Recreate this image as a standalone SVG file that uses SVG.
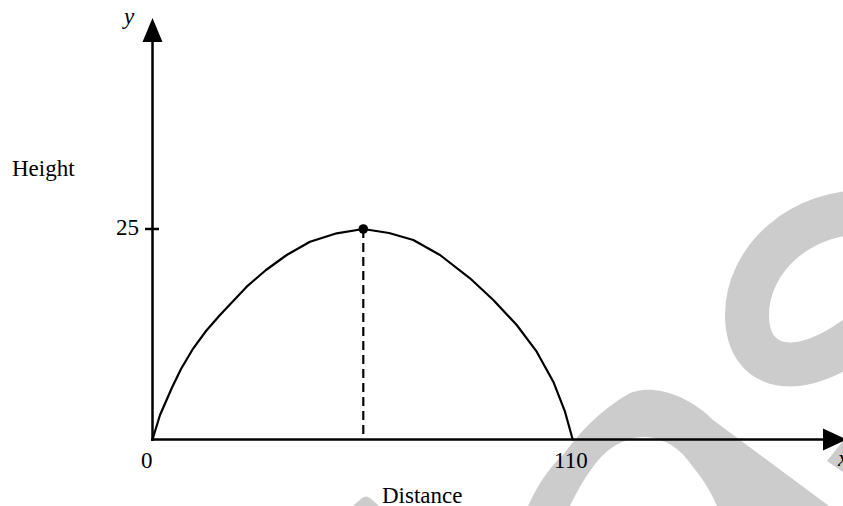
<svg xmlns="http://www.w3.org/2000/svg" width="843" height="506" viewBox="0 0 843 506">
  <style>
    .wm { fill: #cccccc; stroke: none; }
    .wms { fill: none; stroke: #cccccc; }
    .axis { stroke: #000; stroke-width: 2.5; fill: none; }
    .curve { stroke: #000; stroke-width: 2.2; fill: none; stroke-linejoin: round; stroke-linecap: round; }
    .dash { stroke: #000; stroke-width: 2.2; stroke-dasharray: 9 5; fill: none; }
    .lbl { font-family: "Liberation Serif", "Times New Roman", serif; font-size: 23px; fill: #000; }
    .ital { font-style: italic; }
  </style>
  <rect width="843" height="506" fill="#ffffff"/>

  <g id="watermark">
    <path class="wms" stroke-width="44" d="M 875,212 C 800,208 747,260 747,315 C 747,372 800,382 862,333"/>
    <path class="wm" d="M 528,506 C 540,480 552,465 563,455 C 580,432 600,410 630,393 C 642,388 660,388 680,397 C 695,404 705,412 713,420 L 829,506 L 717,506 C 710,490 702,478 693,467 C 686,457 675,444 660,440 C 648,435 630,436 613,447 C 600,455 585,475 570,506 Z"/>
    <path class="wm" d="M 353,506 L 362,498 Q 366,495 370,498 L 379,506 Z"/>
    <path class="wm" d="M 827,461 L 843,441 L 843,472 Z"/>
  </g>

  <g id="axes">
    <line class="axis" x1="152.5" y1="441" x2="152.5" y2="38"/>
    <polygon points="152.5,18 142.5,42 162.5,42" fill="#000"/>
    <line class="axis" x1="151" y1="439.5" x2="826" y2="439.5"/>
    <polygon points="847,439.5 823,428.5 823,450.5" fill="#000"/>
    <line class="axis" x1="145" y1="229" x2="159" y2="229"/>
  </g>

  <g id="trajectory">
    <polyline class="curve" points="152.5,439.5 160,415 171.7,388.3 181,369 193.3,348.3 206,331 220,315 246.7,286.7 266,270 286.7,255 310,241.7 336.7,233.3 363.3,229 389,233 413.3,240 440,255 470,278.3 493.3,300 516.7,325 536.7,351.7 553.3,381.7 565,411.7 572.7,439.5"/>
    <line class="dash" x1="363.3" y1="229" x2="363.3" y2="439"/>
    <circle cx="363.3" cy="229" r="4.8" fill="#000"/>
  </g>

  <g id="labels">
    <text class="lbl ital" x="124" y="24">y</text>
    <text class="lbl" x="12" y="175.5">Height</text>
    <text class="lbl" x="116" y="234.5">25</text>
    <text class="lbl" x="141" y="468">0</text>
    <text class="lbl" x="554" y="468">110</text>
    <text class="lbl" x="382" y="503">Distance</text>
    <text class="lbl ital" x="838" y="466">x</text>
  </g>
</svg>
